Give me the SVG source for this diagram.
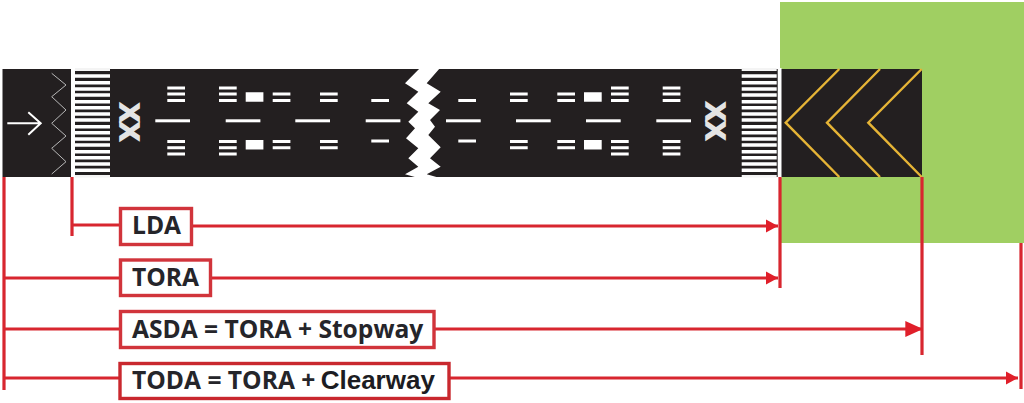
<svg xmlns="http://www.w3.org/2000/svg" width="1024" height="403" viewBox="0 0 1024 403">
<style>
.w{fill:#fff}
.ln{stroke:#d8262f;stroke-width:3.200;fill:none}
.box{fill:#fff;stroke:#d1343b;stroke-width:3.400}
.t{font-family:"Open Sans","Noto Sans",sans-serif;font-weight:700;font-size:24.600px;fill:#25252a}
.c{font-family:"Liberation Sans",Arial,sans-serif;font-weight:700;font-size:26px;fill:#1c1c22}
.xx{font-family:"Liberation Sans",Arial,sans-serif;font-weight:700;font-size:28.500px;fill:#e4e4e4;stroke:#e4e4e4;stroke-width:1.600;text-anchor:middle}
.y{fill:none;stroke:#e6b436;stroke-width:2.400}
</style>
<defs>
<g id="stripes">
<rect x="0" y="69" width="35" height="108" fill="#231f20"/>
<rect x="0" y="68" width="35" height="3" fill="#f4f4f4"/>
<rect x="0" y="175" width="35" height="2.500" fill="#f4f4f4"/>
<path class="w" d="M0 74.300h35v3.400h-35zM0 81h35v3.400h-35zM0 87.300h35v3.400h-35zM0 93.300h35v3.400h-35zM0 100h35v3.400h-35zM0 106h35v3.400h-35zM0 112.300h35v3.400h-35zM0 118.300h35v3.400h-35zM0 125h35v3.400h-35zM0 131h35v3.400h-35zM0 137.300h35v3.400h-35zM0 143.300h35v3.400h-35zM0 150h35v3.400h-35zM0 156h35v3.400h-35zM0 162.300h35v3.400h-35zM0 168.600h35v3.400h-35z"/>
</g>
<g id="tri"><path class="w" d="M0 86.500h17.700v3h-17.700zM0 92.500h17.700v3h-17.700zM0 99h17.700v3h-17.700zM0 140h17.700v3h-17.700zM0 146.200h17.700v3h-17.700zM0 152.500h17.700v3h-17.700z"/></g>
<g id="dbl"><path class="w" d="M0 92.500h17.700v3h-17.700zM0 99h17.700v3h-17.700zM0 140h17.700v3h-17.700zM0 146.200h17.700v3h-17.700z"/></g>
<g id="sgl"><path class="w" d="M0 99h17.700v3h-17.700zM0 139.500h17.700v3h-17.700z"/></g>
<g id="blk"><path class="w" d="M0 92.300h17.700v9.400h-17.700zM0 140h17.700v9.400h-17.700z"/></g>
<rect id="cl" x="0" y="119.300" width="34.700" height="3" class="w"/>
<marker id="a1" markerUnits="userSpaceOnUse" markerWidth="13" markerHeight="14" refX="12.500" refY="7" orient="auto"><path d="M0 .3L12.500 7L0 13.700z" fill="#e01f2a"/></marker>
<marker id="a2" markerUnits="userSpaceOnUse" markerWidth="18" markerHeight="17" refX="17.700" refY="8.500" orient="auto"><path d="M0 .5L17.700 8.500L0 16.500z" fill="#e01f2a"/></marker>
</defs>

<g id="clearway"><rect x="780" y="2" width="244" height="241" fill="#a0cf62"/></g>

<g id="runway">
<rect x="2.500" y="69" width="919.500" height="108" fill="#231f20"/>
<rect x="71" y="68" width="4" height="110" class="w"/>
<rect x="777.700" y="68" width="3.800" height="110" class="w"/>
<use href="#stripes" x="75"/>
<use href="#stripes" x="741.700"/>
<path d="M7.300 123.300H40.700M28.300 112.300L40.700 123.300L28.300 134.700" fill="none" stroke="#fff" stroke-width="2"/>
<path d="M51.700 73.300L66 85L51.700 96.700L66 110L51.700 123.300L66 136L51.700 148.300L66 161.700L51.700 174" fill="none" stroke="#b8b8b8" stroke-width="1"/>
<text class="xx" transform="translate(119.500 122) rotate(90)">XX</text>
<text class="xx" transform="translate(705.700 121) rotate(90)">XX</text>
<use href="#cl" x="155.300"/><use href="#cl" x="225.700"/><use href="#cl" x="295.300"/><use href="#cl" x="365.700"/>
<use href="#cl" x="446"/><use href="#cl" x="516"/><use href="#cl" x="586"/><use href="#cl" x="656.300"/>
<use href="#tri" x="167.300"/><use href="#tri" x="219"/><use href="#blk" x="245.700"/><use href="#dbl" x="272.700"/>
<use href="#dbl" x="320"/><use href="#sgl" x="371.300"/><use href="#sgl" x="458.300"/><use href="#dbl" x="510"/>
<use href="#dbl" x="557.300"/><use href="#blk" x="584"/><use href="#tri" x="611"/><use href="#tri" x="662.700"/>
<polygon class="w" points="420,68 405,83.300 418.300,91.700 406.700,103.300 418.300,111.700 408.300,121.700 415,128.300 406,138.300 418.300,148.300 408.300,158.300 418.300,166.700 405,174.300 418.300,178 440,178 426.700,174.300 440.700,166.700 430,158.300 440.700,147.300 428.300,135 435,126.700 430,120 440,110 428.300,103.300 440.700,91.700 426.700,83.300 440,68"/>
<path class="y" d="M839.300 69L785.700 122.700L839.300 177M880 69L827 122.700L880 177M921.700 69L868.300 122.700L921.700 177"/>
</g>

<g id="connectors">
<path class="ln" d="M4 177V390M72 177V236M72 225H120M4 278H120M4 329H120M4 378H120"/>
<path class="ln" d="M780 177V288M922 177V355M1021 243V389"/>
<path class="ln" d="M192 226H778" marker-end="url(#a1)"/>
<path class="ln" d="M210 278H778" marker-end="url(#a1)"/>
<path class="ln" d="M434 329H923" marker-end="url(#a2)"/>
<path class="ln" d="M446 378H1018" marker-end="url(#a1)"/>
</g>

<g id="lda"><rect class="box" x="120.500" y="208.500" width="71" height="36"/><text class="t" x="132" y="234.300">LDA</text></g>
<g id="tora"><rect class="box" x="120.500" y="260" width="90" height="35.500"/><text class="t" x="132" y="285.700">TORA</text></g>
<g id="asda"><rect class="box" x="120.500" y="311.500" width="313.500" height="36"/><text class="t" x="132" y="337.700">ASDA = TORA + Stopway</text></g>
<g id="toda"><rect class="box" x="120" y="363.500" width="329" height="35" style="stroke:#c9282e"/><text class="t" x="132" y="389">TODA = TORA +</text><text class="c" x="320.700" y="388.500">Clearway</text></g>
</svg>
